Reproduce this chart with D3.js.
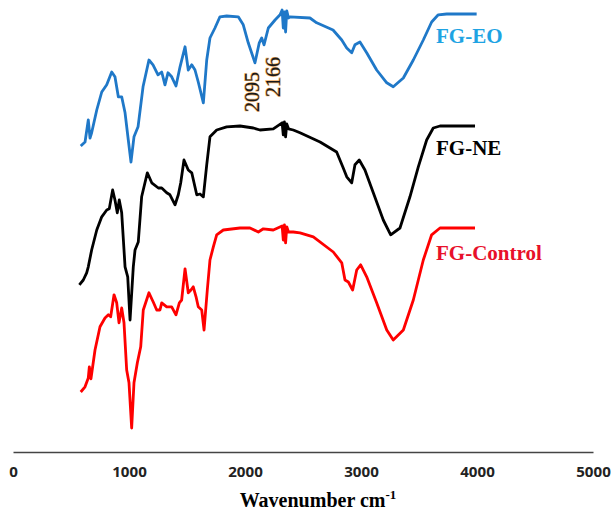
<!DOCTYPE html>
<html>
<head>
<meta charset="utf-8">
<script src="https://cdn.jsdelivr.net/npm/d3@7"></script>
<style>
  body { margin: 0; background: #fff; }
  .tick text { font-family: "Open Sans", sans-serif; font-weight: 700; font-size: 14px; fill: #222; }
  .series-label { font-family: "Liberation Serif", serif; font-weight: 700; font-size: 21px; }
  .peak-label { font-family: "Liberation Serif", serif; font-size: 20px; }
</style>
</head>
<body>
<div id="chart"></div>
<script>
// [wavenumber cm-1, transmittance (a.u., offset per sample)]
var fgEO = [
  [584, 76.5], [621, 77.5], [649, 83], [664, 78.5], [678, 79.8], [722, 85.5], [765, 90],
  [808, 91.8], [851, 95], [879, 93.8], [908, 88.8], [937, 88.8], [966, 84.8], [994, 78],
  [1017, 72.5], [1043, 78.8], [1078, 81.3], [1121, 91.3], [1172, 98], [1207, 96.8],
  [1250, 94.3], [1282, 95], [1310, 91.8], [1336, 94.8], [1368, 93.8], [1405, 91.5],
  [1440, 96.3], [1483, 101.3], [1511, 95.5], [1541, 96.8], [1569, 95.5], [1597, 92.5],
  [1641, 87.3], [1670, 98], [1698, 103.5], [1741, 106], [1784, 108.8], [1842, 109],
  [1942, 108.8], [1985, 106.8], [2028, 102.3], [2086, 97.3], [2123, 102.3], [2144, 103.5],
  [2164, 101.8], [2201, 106], [2259, 108], [2302, 109.3], [2320, 110.5], [2330, 106],
  [2340, 110], [2350, 105], [2360, 110.3], [2375, 108.5], [2388, 108.8], [2560, 108.5],
  [2618, 107.3], [2759, 105.5], [2834, 103], [2877, 101], [2920, 99.8], [2948, 101.8],
  [2991, 102.5], [3049, 99.8], [3135, 95.5], [3222, 92.3], [3278, 91.3], [3365, 93.5],
  [3451, 98], [3537, 103], [3609, 107.5], [3666, 109.3], [3739, 109.5], [3997, 109.5]
];

var fgNE = [
  [572, 41.8], [606, 43], [635, 44.8], [649, 46.3], [678, 50.5], [722, 55.5], [765, 58.8],
  [808, 60.5], [830, 60.8], [859, 65.5], [879, 63], [899, 59.8], [916, 63], [937, 59.8],
  [966, 46.3], [989, 43.8], [1009, 33], [1037, 46.3], [1052, 50.5], [1080, 52.5],
  [1109, 63.8], [1158, 69.8], [1196, 67.3], [1253, 66], [1282, 66], [1325, 64.8],
  [1353, 64.3], [1397, 61.8], [1425, 64.3], [1446, 67.3], [1474, 73], [1511, 70.5],
  [1541, 69.8], [1584, 64.3], [1612, 64.5], [1641, 63.8], [1670, 71.8], [1698, 78.8],
  [1756, 80.5], [1842, 81.3], [1957, 81.5], [2072, 81], [2129, 80.5], [2244, 80.8],
  [2320, 82.3], [2330, 79.3], [2340, 82.5], [2350, 78.8], [2360, 82], [2375, 80.8],
  [2416, 80.5], [2474, 79.8], [2647, 77.5], [2790, 75], [2847, 71], [2877, 68.8],
  [2920, 67.3], [2948, 71.8], [2985, 73], [3034, 70.5], [3106, 64.8], [3192, 58],
  [3256, 54.3], [3336, 56], [3422, 63.8], [3494, 71.3], [3566, 78], [3623, 81],
  [3681, 81.5], [3983, 81.5]
];

var fgControl = [
  [584, 15], [621, 16.3], [649, 18.5], [658, 21.3], [672, 18.3], [707, 25.5], [750, 31.3],
  [793, 33.5], [822, 34.3], [842, 33.8], [871, 39.3], [894, 37.3], [914, 32.3], [937, 36],
  [957, 32.3], [980, 20.5], [1000, 17.3], [1023, 6], [1043, 17.3], [1072, 22.3],
  [1101, 26.3], [1123, 35.5], [1172, 39.8], [1209, 37.5], [1239, 35.5], [1267, 35.5],
  [1282, 37.3], [1325, 36.3], [1368, 36.3], [1405, 34.3], [1434, 37.3], [1454, 38],
  [1483, 45.8], [1511, 39.8], [1534, 40.5], [1554, 41.3], [1578, 38.8], [1597, 36.3],
  [1627, 35.5], [1647, 30.5], [1675, 40.5], [1698, 48], [1727, 51.3], [1756, 54.3],
  [1813, 55.5], [1957, 56], [2043, 56], [2115, 55], [2158, 55.8], [2244, 55.5],
  [2320, 56.5], [2330, 53], [2340, 56.8], [2350, 52.3], [2360, 56.3], [2375, 55],
  [2416, 55], [2474, 54.8], [2589, 53.8], [2761, 50], [2834, 47.3], [2862, 43],
  [2891, 42.5], [2928, 40.5], [2963, 45.5], [2997, 46.8], [3049, 43.8], [3135, 37.3],
  [3222, 30.5], [3278, 28], [3365, 30.5], [3451, 38], [3537, 48], [3609, 54.3],
  [3681, 56], [3983, 56]
];

var xTicks = [0, 1000, 2000, 3000, 4000, 5000];
var peakLabels = ['2095', '2166'];

var width = 612,
  height = 520;

var x = d3.scaleLinear().domain([0, 5000]).range([13, 593]);
var y = d3.scaleLinear().domain([0, 113]).range([452, 0]);

var svg = d3.select('#chart').append('svg')
  .attr('width', width)
  .attr('height', height);

// x axis, no tick marks
var axis = svg.append('g')
  .attr('transform', 'translate(0,452)')
  .call(d3.axisBottom(x)
    .tickValues(xTicks)
    .tickFormat(d3.format('d'))
    .tickSize(0)
    .tickPadding(15));

axis.select('.domain')
  .attr('stroke', '#444')
  .attr('stroke-width', 1.5);

axis.selectAll('.tick text')
  .attr('transform', 'scale(1.08,1)');

svg.append('text')
  .attr('x', 318)
  .attr('y', 507)
  .attr('text-anchor', 'middle')
  .style('font-family', '"Liberation Serif", serif')
  .style('font-weight', 700)
  .style('font-size', '20px')
  .text('Wavenumber cm')
  .append('tspan')
    .attr('dy', -8)
    .style('font-size', '13px')
    .text('-1');

var line = d3.line()
  .x(function (d) { return x(d[0]); })
  .y(function (d) { return y(d[1]); });

var series = [
  { name: 'FG-EO', data: fgEO, stroke: '#1f78c8', label: '#1ea3e3', ly: 43 },
  { name: 'FG-NE', data: fgNE, stroke: '#000', label: '#000', ly: 155 },
  { name: 'FG-Control', data: fgControl, stroke: '#ff0000', label: '#e8102a', ly: 260 }
];

svg.append('g').selectAll('path')
    .data(series)
  .enter().append('path')
    .attr('d', function (d) { return line(d.data); })
    .attr('fill', 'none')
    .attr('stroke', function (d) { return d.stroke; })
    .attr('stroke-width', 2.8)
    .attr('stroke-linejoin', 'round');

svg.append('g').selectAll('text')
    .data(series)
  .enter().append('text')
    .classed('series-label', true)
    .attr('x', 436)
    .attr('y', function (d) { return d.ly; })
    .attr('fill', function (d) { return d.label; })
    .text(function (d) { return d.name; });

// rotated peak annotations
svg.append('g').selectAll('text')
    .data(peakLabels)
  .enter().append('text')
    .classed('peak-label', true)
    .attr('transform', function (d, i) {
      return i === 0 ? 'translate(259,112) rotate(-90)' : 'translate(280,97) rotate(-90)';
    })
    .attr('fill', '#1a1a1a')
    .attr('stroke', '#f2b36a')
    .attr('stroke-width', 1.2)
    .style('paint-order', 'stroke')
    .text(function (d) { return d; });
</script>
</body>
</html>
